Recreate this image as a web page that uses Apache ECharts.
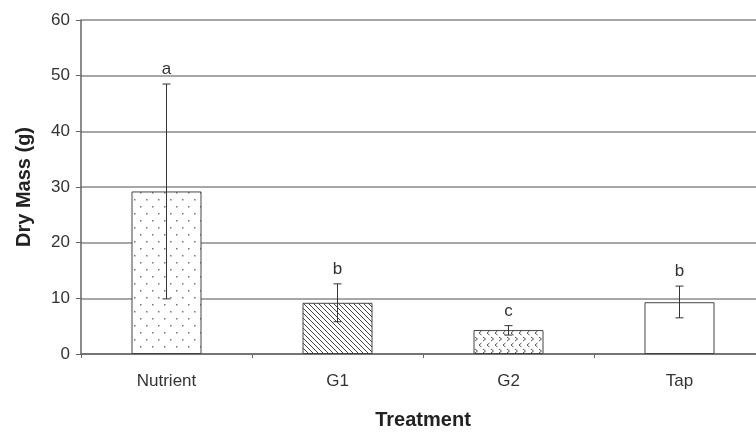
<!DOCTYPE html>
<html>
<head>
<meta charset="utf-8">
<script src="https://cdn.jsdelivr.net/npm/echarts@6/dist/echarts.min.js"></script>
<style>
  html, body { margin: 0; padding: 0; background: #fff; }
  #chart { width: 756px; height: 434px; }
</style>
</head>
<body>
<div id="chart"></div>
<script>
  // values
  const categories = ['Nutrient', 'G1', 'G2', 'Tap'];
  const means = [29.2, 9.2, 4.3, 9.3];
  const errLow = [9.9, 5.8, 3.4, 6.5];
  const errHigh = [48.5, 12.6, 5.1, 12.2];
  const letters = ['a', 'b', 'c', 'b'];

  const FONT = 'Liberation Sans, Arial, sans-serif';

  // small canvas tiles for the bar fills
  function tile(w, h, draw) {
    const c = document.createElement('canvas');
    c.width = w; c.height = h;
    const g = c.getContext('2d');
    g.fillStyle = '#fff';
    g.fillRect(0, 0, w, h);
    draw(g);
    return { image: c, repeat: 'repeat' };
  }

  const dots = tile(12, 14, g => {
    g.fillStyle = '#777';
    g.fillRect(2, 3, 1.5, 1.5);
    g.fillRect(8, 10, 1.5, 1.5);
  });

  const hatch = tile(5, 5, g => {
    g.strokeStyle = '#444';
    g.lineWidth = 1;
    for (let x = -5; x <= 5; x += 5) {
      g.beginPath();
      g.moveTo(x, 0);
      g.lineTo(x + 5, 5);
      g.stroke();
    }
  });

  const chevrons = tile(16, 12, g => {
    g.strokeStyle = '#555';
    g.lineWidth = 1;
    g.beginPath();
    g.moveTo(3, 1); g.lineTo(5.5, 3); g.lineTo(3, 5);
    g.moveTo(11, 1); g.lineTo(13.5, 3); g.lineTo(11, 5);
    g.moveTo(9.5, 7); g.lineTo(7, 9); g.lineTo(9.5, 11);
    g.moveTo(1.5, 7); g.lineTo(-1, 9); g.lineTo(1.5, 11);
    g.moveTo(17.5, 7); g.lineTo(15, 9); g.lineTo(17.5, 11);
    g.stroke();
  });

  const fills = [dots, hatch, chevrons, '#fff'];

  const chart = echarts.init(document.getElementById('chart'));

  chart.setOption({
    animation: false,
    backgroundColor: '#fff',
    grid: { left: 81, top: 20, width: 684, height: 334, outerBoundsMode: 'none' },
    xAxis: {
      type: 'category',
      data: categories,
      name: 'Treatment',
      nameLocation: 'middle',
      nameGap: 56,
      nameTextStyle: { fontFamily: FONT, fontSize: 20, fontWeight: 'bold', color: '#222' },
      axisLine: { lineStyle: { color: '#666', width: 1.5 } },
      axisTick: { show: true, length: 4, lineStyle: { color: '#666' } },
      axisLabel: { fontFamily: FONT, fontSize: 17, color: '#333', margin: 19 },
      splitLine: { show: false }
    },
    yAxis: {
      type: 'value',
      min: 0,
      max: 60,
      interval: 10,
      name: 'Dry Mass (g)',
      nameLocation: 'middle',
      nameGap: 47,
      nameTextStyle: { fontFamily: FONT, fontSize: 20, fontWeight: 'bold', color: '#222' },
      axisLine: { show: true, lineStyle: { color: '#666', width: 1.5 } },
      axisTick: { show: true, length: 5, lineStyle: { color: '#666' } },
      axisLabel: { fontFamily: FONT, fontSize: 17, color: '#333', margin: 11 },
      splitLine: { lineStyle: { color: '#8a8a8a', width: 1.5 } }
    },
    series: [
      {
        type: 'bar',
        barWidth: 70,
        data: means.map((v, i) => ({
          value: v,
          itemStyle: { color: fills[i], borderColor: '#444', borderWidth: 1 }
        })),
        z: 2
      },
      {
        type: 'custom',
        data: means.map((v, i) => [i, v, errLow[i], errHigh[i]]),
        encode: { x: 0, y: 1 },
        z: 3,
        renderItem(params, api) {
          const i = api.value(0);
          const lo = api.coord([i, api.value(2)]);
          const hi = api.coord([i, api.value(3)]);
          const cap = 4;
          const st = { stroke: '#333', lineWidth: 1 };
          return {
            type: 'group',
            children: [
              { type: 'line', shape: { x1: lo[0], y1: lo[1], x2: hi[0], y2: hi[1] }, style: st },
              { type: 'line', shape: { x1: hi[0] - cap, y1: hi[1], x2: hi[0] + cap, y2: hi[1] }, style: st },
              { type: 'line', shape: { x1: lo[0] - cap, y1: lo[1], x2: lo[0] + cap, y2: lo[1] }, style: st },
              {
                type: 'text',
                x: hi[0],
                y: hi[1] - 6,
                style: {
                  text: letters[params.dataIndex],
                  align: 'center',
                  verticalAlign: 'bottom',
                  fontFamily: FONT,
                  fontSize: 17,
                  fill: '#333'
                }
              }
            ]
          };
        }
      }
    ]
  });
</script>
</body>
</html>
